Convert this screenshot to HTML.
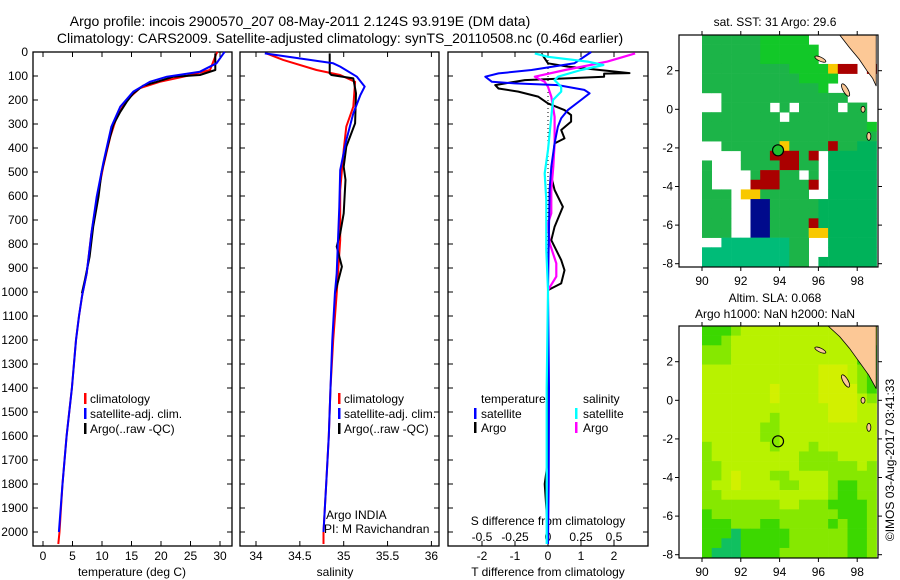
<!DOCTYPE html>
<html><head><meta charset="utf-8"><style>
html,body{margin:0;padding:0;background:#fff;}
svg{display:block;font-family:"Liberation Sans",sans-serif;}
</style></head><body>
<svg id="fig" width="900" height="580" viewBox="0 0 900 580" xmlns="http://www.w3.org/2000/svg">
<text x="300" y="26" font-size="14" text-anchor="middle">Argo profile: incois 2900570_207 08-May-2011 2.124S 93.919E (DM data)</text>
<text x="340" y="43" font-size="14" text-anchor="middle">Climatology: CARS2009. Satellite-adjusted climatology: synTS_20110508.nc (0.46d earlier)</text>
<text x="775" y="26" font-size="12" text-anchor="middle">sat. SST: 31 Argo: 29.6</text>
<text x="775" y="302" font-size="12" text-anchor="middle">Altim. SLA: 0.068</text>
<text x="775" y="318" font-size="12" text-anchor="middle">Argo h1000: NaN h2000: NaN</text>
<text transform="translate(894,460) rotate(-90)" font-size="12" text-anchor="middle">©IMOS 03-Aug-2017 03:41:33</text>
<g id="layer"></g>
</svg>
<script>
// ---------- data ----------
const depthTicks = [0,100,200,300,400,500,600,700,800,900,1000,1100,1200,1300,1400,1500,1600,1700,1800,1900,2000];
const tempTicks = [0,5,10,15,20,25,30];
const salTicks = [34,34.5,35,35.5,36];
const salTickLabels = ["34","34.5","35","35.5","36"];
const tdiffTicks = [-2,-1,0,1,2];
const sdiffTicks = [-0.5,-0.25,0,0.25,0.5];
const sdiffTickLabels = ["-0.5","-0.25","0","0.25","0.5"];

const tClimDepth = [0,6,75,100,124,151,200,269,353,478,617,756,922,1006,1100,1200,1400,1600,1800,2000,2050];
const tClimVal   = [29.6,29.4,28.3,24.3,19.8,16.4,14.2,12.5,11.4,10.2,9.1,8.2,7.4,6.7,6.1,5.6,4.9,4.0,3.3,2.8,2.6];
const tSatDepth  = [0,6,47,82,103,124,165,228,311,464,603,756,922,1020,1100,1200,1400,1600,1800,2000];
const tSatVal    = [30.8,30.6,29.4,26.6,21.0,18.1,15.3,13.1,11.6,10.2,9.1,8.2,7.4,6.6,6.1,5.6,4.9,4.0,3.3,2.7];
const tArgoDepth = [6,75,96,103,124,140,172,207,249,304,408,505,603,728,853,950,1006];
const tArgoVal   = [29.2,29.2,26.6,22.1,19.3,17.0,15.3,14.2,13.1,11.9,10.8,9.9,9.4,8.5,7.9,7.1,6.6];

const sClimDepth = [6,33,75,96,124,228,311,408,575,783,1006,1200,1400,1600,1800,2000,2050];
const sClimVal   = [34.12,34.31,34.69,34.96,35.13,35.11,35.03,35.0,34.96,34.96,34.92,34.88,34.85,34.83,34.80,34.77,34.77];
const sSatDepth  = [6,47,61,103,144,179,256,367,492,644,922,1006,1200,1400,1600,1800,2000];
const sSatVal    = [34.10,34.88,34.96,35.15,35.24,35.19,35.11,35.03,34.96,34.95,34.92,34.90,34.87,34.85,34.83,34.80,34.77];
const sArgoDepth = [6,89,96,110,172,297,394,478,533,672,756,811,894,978,1006];
const sArgoVal   = [34.84,34.84,34.86,35.11,35.14,35.13,35.03,35.0,35.02,35.0,34.96,34.92,34.98,34.92,34.9];

const dTSatDepth = [0,47,75,89,103,124,131,138,158,172,200,242,276,311,381,478,575,992,1400,1800,2050];
const dTSatVal   = [1.31,0.8,-0.5,-1.5,-1.9,-1.7,-1.0,0.3,1.1,1.26,1.0,0.6,0.4,0.3,0.2,0.1,0.05,0,0.03,0.02,0];
const dTArgoDepth = [6,47,61,88,90,103,117,138,152,165,186,214,242,263,290,325,360,381,520,575,645,728,784,867,909,964,992,1400,1700,1800,2000];
const dTArgoVal   = [-0.2,0,0.6,2.47,1.7,1.7,-0.7,-1.6,-1.5,-0.9,-0.3,0,0.5,0.7,0.7,0.4,0.5,0.2,0.1,0.2,0.45,0.2,0.1,0.4,0.5,0.4,0,0,0,-0.1,0];
const dSArgoDepth = [6,40,75,103,124,145,186,270,381,478,575,672,714,797,881,936,992];
const dSArgoVal   = [0.66,0.45,0.13,-0.1,-0.025,0,0.025,0.05,0.05,0.04,0.025,0.025,0,0.013,0.063,0.063,0];
const dSSatDepth  = [6,20,40,54,75,103,117,145,165,200,270,408,506,617,825,992,1400,1800,2050];
const dSSatVal    = [-0.1,0,0.3,0.42,0.25,0.076,0.05,0.1,0.1,0.038,0.025,0,-0.025,-0.013,-0.013,0,-0.01,-0.01,-0.01];

const lonTicks = [90,92,94,96,98];
const latTicks = [2,0,-2,-4,-6,-8];
const argoLon = 93.919, argoLat = -2.124;

const sstGrid = [
"ggggggGGGGG.......","ggggggGGGGGG......","ggggggGGGGGG......","gggggggggGGGGyrr.r",
"ggggggggggGGGG....","ggggggggggggG.....","..ggggggggggggg...","..ggggg.g.gggg.gg.",
"gggggggg.gggggggg.","gggggggggggggggggG","gggggggggggggggggg","..ggggggyggggrggtt",
"....gggrrrgr.ttttt","g...ggggrrgg.ttttt","g....grrgg.g.ttttt","g....rrrgggr.ttttt",
"ggg.yyggggg..ttttt","ggg..bbgggggtttttt","ggg..bbgggggtttttt","ggg..bbggggrtttttt",
"ggg..bbggggyyttttt","..TTTTTTTgg..ttttt","TTTTTTTTTgg..ttttt","TTTTTTTTTgg.tttttt"];
const slaGrid = [
"ggglyyyyyyyyyyyyyy","gglyyyyyyyyyyyyyyy","lllyyyyyyyyyyyyygg","lllyyyyyyyyyyyyygg",
"yyyyyyyyyyyyYYYylg","yyyyyyyyyyyyYYYylg","yyyyyyyYyyyyYYYYlg","yyyyyyyYyyyyYYYYyl",
"yyyyyyyyyyyyyYYYyy","yyyyyyylyyyyyYYYyy","yyyyyyllyyyyyyyyyy","yyyyyyllyyyyyyyyyy",
"lyyyyyylyyylyyyyyy","lyyyyyyyyyllllyyyy","llyyyyyyyyllllllyl","llyYyyyllyyyylllll",
"lyyYyyyyllyyylggll","llyyyyyyyyyyylggll","llllllllyylllggggl","glllllllllllllgggl",
"ggglllgglllllglggl","gggtgggggllllllggl","ggttgggggllllllggl","gtttgggglllllllggl"];

// ---------- helpers ----------
const NS = "http://www.w3.org/2000/svg";
const layer = document.getElementById('layer');
function mk(tag, attrs, parent){ const e=document.createElementNS(NS,tag); for(const k in attrs) e.setAttribute(k,attrs[k]); (parent||layer).appendChild(e); return e; }

const TOP=52, BOT=546;
const yD = d => TOP + d*0.24;
const xT = v => 43 + v*5.9;
const xS = v => 256 + (v-34)*87.7;
const xDT = v => 548 + v*33;
const xDS = v => 548 + v*132;

function frame(x0,x1,name){
  const r = mk('rect',{x:x0,y:TOP,width:x1-x0,height:BOT-TOP,fill:'none',stroke:'#000','stroke-width':1.3});
  
  
  depthTicks.forEach(d=>{
    mk('line',{x1:x0,x2:x0+5,y1:yD(d),y2:yD(d),stroke:'#000'});
    mk('line',{x1:x1,x2:x1-5,y1:yD(d),y2:yD(d),stroke:'#000'});
  });
}
function xticks(vals,labels,fx,name,ly){
  vals.forEach((v,i)=>{
    mk('line',{x1:fx(v),x2:fx(v),y1:TOP,y2:TOP+5,stroke:'#000'});
    mk('line',{x1:fx(v),x2:fx(v),y1:BOT,y2:BOT-5,stroke:'#000'});
    const t = mk('text',{x:fx(v),y:ly||560,'font-size':12,'text-anchor':'middle'});
    t.textContent = labels[i];
    
    
  });
}
function line(depths, vals, fx, color, w, name, dash){
  const pts = depths.map((d,i)=>fx(vals[i]).toFixed(1)+','+yD(d).toFixed(1)).join(' ');
  const p = mk('polyline',{points:pts,fill:'none',stroke:color,'stroke-width':w,'stroke-linejoin':'round'});
  if(dash) p.setAttribute('stroke-dasharray',dash);
  
  
}
function txt(x,y,s,name,anchor,size){
  const t = mk('text',{x:x,y:y,'font-size':size||12,'text-anchor':anchor||'start'});
  t.textContent = s;
  
  
}
function legBar(x,y,color){
  const b = mk('rect',{x:x,y:y-10,width:2.5,height:11,fill:color});
  
  
}

depthTicks.forEach(d=>{
  const t = mk('text',{x:28,y:yD(d)+4,'font-size':12,'text-anchor':'end'});
  t.textContent = d;
  
  
});

// panel 1 temperature
frame(33,232,'temperature-panel-frame');
xticks(tempTicks,tempTicks.map(String),xT,'temperature-tick-label');
txt(132,576,'temperature (deg C)','temperature-axis-title','middle');
line(tClimDepth,tClimVal,xT,'#ff0000',2,'temperature-climatology-line');
line(tArgoDepth,tArgoVal,xT,'#000000',2,'temperature-argo-line');
line(tSatDepth,tSatVal,xT,'#0000ff',2,'temperature-satellite-line');
legBar(84,403,'#f00'); txt(90,403,'climatology','legend-climatology');
legBar(84,418,'#00f'); txt(90,418,'satellite-adj. clim.','legend-satellite');
legBar(84,433,'#000'); txt(90,433,'Argo(..raw -QC)','legend-argo');

// panel 2 salinity
frame(240,439,'salinity-panel-frame');
xticks(salTicks,salTickLabels,xS,'salinity-tick-label');
txt(335,576,'salinity','salinity-axis-title','middle');
line(sClimDepth,sClimVal,xS,'#ff0000',2,'salinity-climatology-line');
line(sArgoDepth,sArgoVal,xS,'#000000',2,'salinity-argo-line');
line(sSatDepth,sSatVal,xS,'#0000ff',2,'salinity-satellite-line');
legBar(338,403,'#f00'); txt(344,403,'climatology','legend-climatology');
legBar(338,418,'#00f'); txt(344,418,'satellite-adj. clim.','legend-satellite');
legBar(338,433,'#000'); txt(344,433,'Argo(..raw -QC)','legend-argo');
txt(326,519,'Argo INDIA','credit-argo-india');
txt(324,533,'PI: M Ravichandran','credit-pi');

// panel 3 differences
frame(448,648,'difference-panel-frame');
xticks(tdiffTicks,tdiffTicks.map(String),xDT,'tdiff-tick-label');
txt(548,576,'T difference from climatology','tdiff-axis-title','middle');
sdiffTicks.forEach((v,i)=>{ txt(xDS(v),541,sdiffTickLabels[i],'sdiff-tick-label','middle'); });
txt(548,525,'S difference from climatology','sdiff-axis-title','middle');
mk('line',{x1:548,x2:548,y1:TOP,y2:yD(1000),stroke:'#000','stroke-dasharray':'1,3'});
line(dTArgoDepth,dTArgoVal,xDT,'#000000',2,'tdiff-argo-line');
line(dSArgoDepth,dSArgoVal,xDS,'#ff00ff',2.2,'sdiff-argo-line');
line(dTSatDepth,dTSatVal,xDT,'#0000ff',2,'tdiff-satellite-line');
line(dSSatDepth,dSSatVal,xDS,'#00ffff',2.2,'sdiff-satellite-line');
txt(481,403,'temperature','legend-temperature-header');
txt(583,403,'salinity','legend-salinity-header');
legBar(474,418,'#00f'); txt(481,418,'satellite','legend-t-satellite');
legBar(474,432,'#000'); txt(481,432,'Argo','legend-t-argo');
legBar(575,418,'#0ff'); txt(583,418,'satellite','legend-s-satellite');
legBar(575,432,'#f0f'); txt(583,432,'Argo','legend-s-argo');

// ---------- maps ----------
function drawMap(top, grid, colors, name, showDotFill, coast){
  const L=679, R=878, B=top+232;
  const xL = lon => 702 + (lon-90)*19.4;
  const yL = lat => top + (3.85-lat)*19.3;
  const g = mk('g',{});
  
  
  grid.forEach((row,r)=>{
    for(let c=0;c<row.length;c++){
      const col = colors[row[c]];
      if(!col) continue;
      const lon0=90+c*0.5, lat0=3.85-r*0.5;
      const x0=xL(lon0), y0=yL(lat0);
      const x1=Math.min(xL(lon0+0.5),R), y1=Math.min(yL(lat0-0.5),B);
      mk('rect',{x:x0,y:y0,width:x1-x0+0.3,height:y1-y0+0.3,fill:col},g);
    }
  });
  // mainland (Sumatra)
  const landPts = coast.map(p=>xL(p[0]).toFixed(1)+','+yL(p[1]).toFixed(1)).join(' ');
  const land = mk('polygon',{points:landPts,fill:'#fcc896',stroke:'#000','stroke-width':0.8},g);
  
  
  // islands
  [[96.1,2.6,6,2,25],[97.4,1.0,2.5,7,-30],[98.3,0.0,2,3,0],[98.6,-1.4,2,4,0]].forEach(p=>{
    mk('ellipse',{cx:xL(p[0]),cy:yL(p[1]),rx:p[2],ry:p[3],transform:`rotate(${p[4]} ${xL(p[0])} ${yL(p[1])})`,fill:'#fcc896',stroke:'#000','stroke-width':0.8},g);
  });
  mk('rect',{x:L,y:top,width:R-L,height:B-top,fill:'none',stroke:'#000','stroke-width':1.2},g);
  lonTicks.forEach(v=>{
    mk('line',{x1:xL(v),x2:xL(v),y1:B,y2:B+4,stroke:'#000'},g);
    mk('line',{x1:xL(v),x2:xL(v),y1:top,y2:top-4,stroke:'#000'},g);
    const t = mk('text',{x:xL(v),y:B+18,'font-size':12,'text-anchor':'middle'},g);
    t.textContent = v;
    
    
  });
  latTicks.forEach(v=>{
    mk('line',{x1:L,x2:L-4,y1:yL(v),y2:yL(v),stroke:'#000'},g);
    mk('line',{x1:R,x2:R+4,y1:yL(v),y2:yL(v),stroke:'#000'},g);
    const t = mk('text',{x:673,y:yL(v)+4,'font-size':12,'text-anchor':'end'},g);
    t.textContent = v;
    
    
  });
  const m = mk('circle',{cx:xL(argoLon),cy:yL(argoLat),r:5.5,fill:showDotFill?'#20c030':'none',stroke:'#000','stroke-width':1.2},g);
  
  
}
drawMap(35, sstGrid, {g:'#1cb448',G:'#12c828',t:'#00b25a',T:'#00bc78',r:'#aa0000',y:'#f8c800',b:'#000a8c'}, 'sst-map', true,
  [[97.1,3.85],[97.6,3.2],[98.1,2.6],[98.5,2.0],[98.8,1.6],[98.98,1.2],[98.98,3.85]]);
drawMap(326, slaGrid, {y:'#b8f200',Y:'#d2f000',l:'#86e800',g:'#3cd800',t:'#10c060'}, 'sla-map', false,
  [[96.5,3.85],[97.1,3.3],[97.6,2.7],[98.1,2.0],[98.6,1.3],[98.98,0.6],[98.98,3.85]]);
</script>
</body></html>
